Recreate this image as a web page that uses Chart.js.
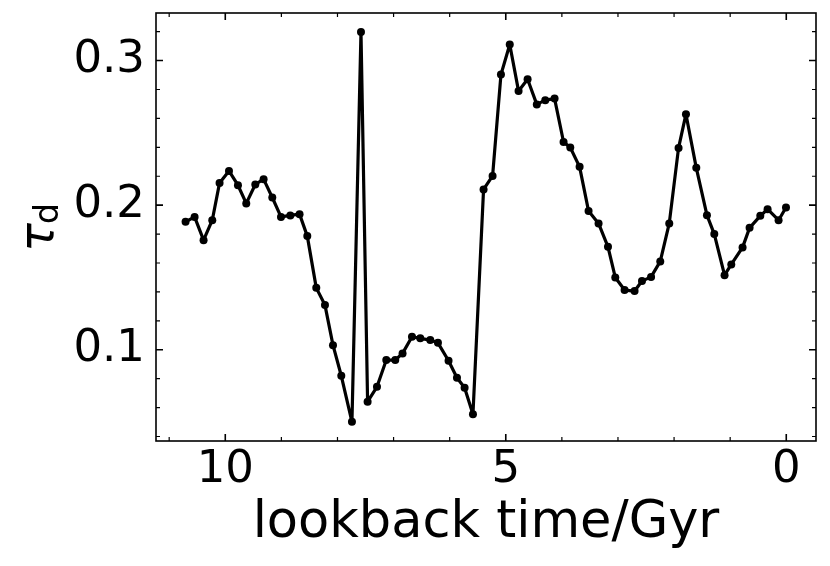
<!DOCTYPE html>
<html>
<head>
<meta charset="utf-8">
<script src="https://cdn.jsdelivr.net/npm/chart.js@4/dist/chart.umd.min.js"></script>
<style>
  html, body { margin: 0; padding: 0; background: #fff; }
</style>
</head>
<body>
<canvas id="myChart" width="830" height="566"></canvas>
<script>
// lookback time (Gyr) and tau_d
const lookback = [10.708, 10.547, 10.387, 10.232, 10.102, 9.934, 9.774, 9.626, 9.465, 9.317,
  9.162, 9.007, 8.841, 8.676, 8.538, 8.378, 8.223, 8.080, 7.932, 7.742,
  7.581, 7.463, 7.296, 7.130, 6.970, 6.840, 6.672, 6.524, 6.346, 6.209,
  6.020, 5.870, 5.734, 5.585, 5.396, 5.235, 5.086, 4.929, 4.772, 4.611,
  4.447, 4.296, 4.130, 3.970, 3.850, 3.684, 3.524, 3.346, 3.178, 3.048,
  2.882, 2.704, 2.572, 2.410, 2.246, 2.086, 1.920, 1.788, 1.604, 1.414,
  1.283, 1.100, 0.980, 0.779, 0.654, 0.463, 0.333, 0.137, 0.005];
const tau = [0.1885, 0.1919, 0.1758, 0.1896, 0.2154, 0.2237, 0.2138, 0.2012, 0.2143, 0.2180,
  0.2053, 0.1919, 0.1929, 0.1938, 0.1786, 0.1428, 0.1309, 0.1032, 0.0820, 0.0502,
  0.3198, 0.0641, 0.0744, 0.0929, 0.0929, 0.0975, 0.1090, 0.1079, 0.1067, 0.1048,
  0.0924, 0.0807, 0.0737, 0.0554, 0.2109, 0.2202, 0.2903, 0.3111, 0.2789, 0.2871,
  0.2697, 0.2726, 0.2737, 0.2437, 0.2399, 0.2265, 0.1959, 0.1874, 0.1712, 0.1500,
  0.1413, 0.1406, 0.1475, 0.1504, 0.1611, 0.1874, 0.2396, 0.2629, 0.2258, 0.1931,
  0.1800, 0.1516, 0.1590, 0.1708, 0.1843, 0.1926, 0.1972, 0.1896, 0.1984];

const xTicks = [10, 5, 0];
const yTicks = [0.1, 0.2, 0.3];
const xMinor = [1, 2, 3, 4, 6, 7, 8, 9, 11];
const yMinor = [0.04, 0.06, 0.08, 0.12, 0.14, 0.16, 0.18, 0.22, 0.24, 0.26, 0.28, 0.32];

const FONT = 'DejaVu Sans';

// frame + inward ticks on all four sides, plus the tau_d label
const frame = {
  id: 'frame',
  afterDraw(chart) {
    const { ctx, chartArea: a, scales: { x, y } } = chart;
    ctx.save();
    ctx.strokeStyle = '#000';
    ctx.lineWidth = 1.6;
    ctx.strokeRect(a.left, a.top, a.right - a.left, a.bottom - a.top);
    const tick = (vals, len) => {
      vals.forEach(v => {
        const px = x.getPixelForValue(v);
        ctx.beginPath();
        ctx.moveTo(px, a.bottom); ctx.lineTo(px, a.bottom - len);
        ctx.moveTo(px, a.top); ctx.lineTo(px, a.top + len);
        ctx.stroke();
      });
    };
    const ytick = (vals, len) => {
      vals.forEach(v => {
        const py = y.getPixelForValue(v);
        ctx.beginPath();
        ctx.moveTo(a.left, py); ctx.lineTo(a.left + len, py);
        ctx.moveTo(a.right, py); ctx.lineTo(a.right - len, py);
        ctx.stroke();
      });
    };
    ctx.lineWidth = 1.6;
    tick(xTicks, 7); ytick(yTicks, 7);
    ctx.lineWidth = 1.2;
    tick(xMinor, 4); ytick(yMinor, 4);

    // y title: tau with subscript d
    ctx.fillStyle = '#000';
    ctx.translate(53, 252);
    ctx.rotate(-Math.PI / 2);
    ctx.textBaseline = 'alphabetic';
    ctx.font = 'italic 48px ' + FONT;
    ctx.fillText('τ', 0, 0);
    const w = ctx.measureText('τ').width;
    ctx.font = '33px ' + FONT;
    ctx.fillText('d', w - 1, 5);
    ctx.restore();
  }
};

new Chart(document.getElementById('myChart'), {
  type: 'line',
  data: {
    datasets: [{
      data: lookback.map((t, i) => ({ x: t, y: tau[i] })),
      borderColor: '#000',
      backgroundColor: '#000',
      borderWidth: 3.2,
      borderJoinStyle: 'round',
      borderCapStyle: 'round',
      pointRadius: 4,
      pointBorderWidth: 0,
      tension: 0,
      fill: false
    }]
  },
  options: {
    responsive: false,
    animation: false,
    layout: { padding: { top: 13, right: 14, left: 0, bottom: 0 } },
    plugins: { legend: { display: false }, tooltip: { enabled: false } },
    scales: {
      x: {
        type: 'linear',
        reverse: true,
        min: -0.53,
        max: 11.235,
        grid: { display: false },
        border: { display: false },
        afterBuildTicks: s => { s.ticks = xTicks.map(v => ({ value: v })); },
        afterFit: s => { s.height = 125; s.paddingLeft = 0; s.paddingRight = 0; },
        ticks: { color: '#000', font: { family: FONT, size: 45 }, padding: -6, maxRotation: 0 },
        title: {
          display: true,
          text: 'lookback time/Gyr',
          color: '#000',
          font: { family: FONT, size: 51 },
          padding: { top: 0, bottom: 12 }
        }
      },
      y: {
        min: 0.0369,
        max: 0.3329,
        grid: { display: false },
        border: { display: false },
        afterBuildTicks: s => { s.ticks = yTicks.map(v => ({ value: v })); },
        afterFit: s => { s.width = 156; s.paddingTop = 0; s.paddingBottom = 0; },
        ticks: { color: '#000', font: { family: FONT, size: 45 }, padding: 3,
          callback: v => v.toFixed(1) }
      }
    }
  },
  plugins: [frame]
});
</script>
</body>
</html>
